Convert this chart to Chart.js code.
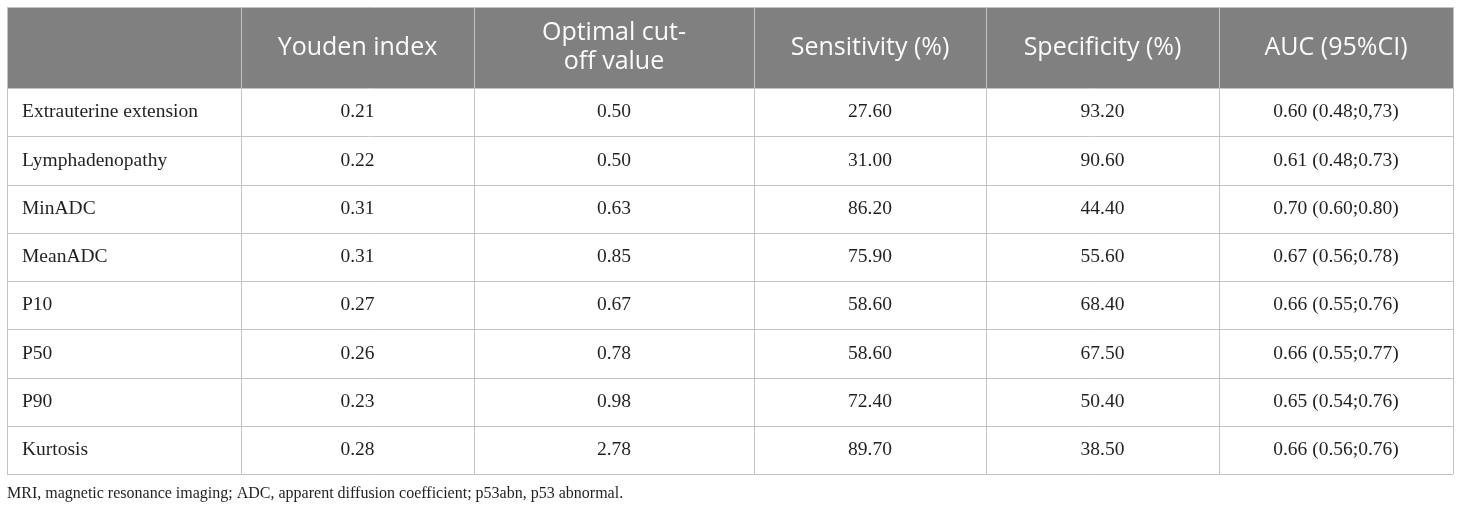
<!DOCTYPE html>
<html>
<head>
<meta charset="utf-8">
<script src="https://cdn.jsdelivr.net/npm/chart.js@4"></script>
<style>
  html, body { margin: 0; padding: 0; background: #fff; }
  #wrap { width: 1460px; height: 512px; }
</style>
</head>
<body>
<div id="wrap"><canvas id="tableChart" width="1460" height="512"></canvas></div>
<script>
// table content
const headers = ["", "Youden index", "Optimal cut-\noff value", "Sensitivity (%)", "Specificity (%)", "AUC (95%CI)"];
const categories = ["Extrauterine extension", "Lymphadenopathy", "MinADC", "MeanADC", "P10", "P50", "P90", "Kurtosis"];
const youden = [0.21, 0.22, 0.31, 0.31, 0.27, 0.26, 0.23, 0.28];
const cutoff = [0.50, 0.50, 0.63, 0.85, 0.67, 0.78, 0.98, 2.78];
const sensitivity = [27.60, 31.00, 86.20, 75.90, 58.60, 58.60, 72.40, 89.70];
const specificity = [93.20, 90.60, 44.40, 55.60, 68.40, 67.50, 50.40, 38.50];
const aucCI = ["0.60 (0.48;0,73)", "0.61 (0.48;0.73)", "0.70 (0.60;0.80)", "0.67 (0.56;0.78)",
               "0.66 (0.55;0.76)", "0.66 (0.55;0.77)", "0.65 (0.54;0.76)", "0.66 (0.56;0.76)"];
const footnote = "MRI, magnetic resonance imaging; ADC, apparent diffusion coefficient; p53abn, p53 abnormal.";

// layout of the grid, in scale units
const colEdges = [0, 234, 467, 747, 979, 1212, 1446];
const headerH = 81;
const rowH = 48.25;
const rowEdges = [0, headerH].concat(categories.map((_, i) => headerH + rowH * (i + 1)));

const fmt = (v) => v.toFixed(2);
const columns = [
  categories,
  youden.map(fmt),
  cutoff.map(fmt),
  sensitivity.map(fmt),
  specificity.map(fmt),
  aucCI,
];

const tablePlugin = {
  id: "tablePlugin",
  beforeDraw(chart) {
    const { ctx } = chart;
    const x = chart.scales.x, y = chart.scales.y;
    // header background
    ctx.save();
    ctx.fillStyle = "#7f807f";
    ctx.fillRect(x.getPixelForValue(0), y.getPixelForValue(0),
      x.getPixelForValue(colEdges[colEdges.length - 1]) - x.getPixelForValue(0),
      y.getPixelForValue(headerH) - y.getPixelForValue(0));
    ctx.restore();
  },
  afterDraw(chart) {
    const { ctx } = chart;
    const x = chart.scales.x, y = chart.scales.y;
    const x0 = x.getPixelForValue(0), x1 = x.getPixelForValue(colEdges[colEdges.length - 1]);
    const y0 = y.getPixelForValue(0), y1 = y.getPixelForValue(rowEdges[rowEdges.length - 1]);
    ctx.save();
    // grid lines
    ctx.strokeStyle = "#c4c4c4";
    ctx.lineWidth = 1;
    rowEdges.forEach((r) => {
      const py = Math.round(y.getPixelForValue(r)) + 0.5;
      ctx.beginPath(); ctx.moveTo(x0, py); ctx.lineTo(x1, py); ctx.stroke();
    });
    colEdges.forEach((c) => {
      const px = Math.round(x.getPixelForValue(c)) + 0.5;
      ctx.beginPath(); ctx.moveTo(px, y0); ctx.lineTo(px, y1); ctx.stroke();
    });

    // header text
    ctx.fillStyle = "#fbfbfb";
    ctx.font = "25px 'Open Sans'";
    ctx.textAlign = "center";
    ctx.textBaseline = "middle";
    headers.forEach((h, i) => {
      if (!h) return;
      const cx = x.getPixelForValue((colEdges[i] + colEdges[i + 1]) / 2);
      const cy = y.getPixelForValue(headerH / 2);
      const lines = h.split("\n");
      lines.forEach((ln, k) => {
        ctx.fillText(ln, cx, cy + (k - (lines.length - 1) / 2) * 29);
      });
    });

    // body cells
    ctx.fillStyle = "#231f20";
    ctx.font = "19.5px 'Liberation Serif'";
    columns.forEach((col, i) => {
      col.forEach((txt, r) => {
        const cy = y.getPixelForValue((rowEdges[r + 1] + rowEdges[r + 2]) / 2);
        if (i === 0) {
          ctx.textAlign = "left";
          ctx.fillText(txt, x.getPixelForValue(colEdges[0]) + 15, cy);
        } else {
          ctx.textAlign = "center";
          ctx.fillText(txt, x.getPixelForValue((colEdges[i] + colEdges[i + 1]) / 2), cy);
        }
      });
    });

    // footnote
    ctx.font = "16px 'Liberation Serif'";
    ctx.textAlign = "left";
    ctx.fillText(footnote, x0, y1 + 20);
    ctx.restore();
  },
};

new Chart(document.getElementById("tableChart"), {
  type: "scatter",
  data: { datasets: [] },
  options: {
    responsive: false,
    animation: false,
    devicePixelRatio: 1,
    layout: { padding: { left: 7, top: 7, right: 7, bottom: 38 } },
    scales: {
      x: { type: "linear", display: false, min: 0, max: colEdges[colEdges.length - 1] },
      y: { type: "linear", display: false, reverse: true, min: 0, max: rowEdges[rowEdges.length - 1] },
    },
    plugins: { legend: { display: false }, tooltip: { enabled: false } },
  },
  plugins: [tablePlugin],
});
</script>
</body>
</html>
